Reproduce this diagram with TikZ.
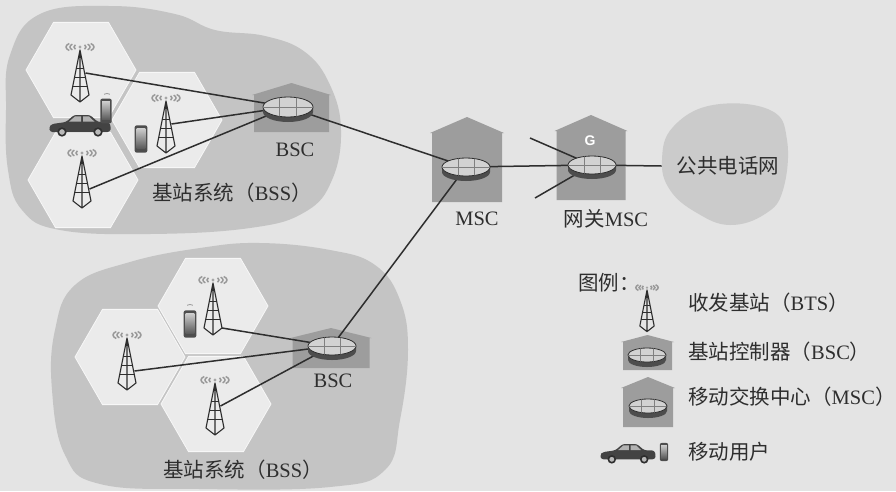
\documentclass[tikz,border=0pt]{standalone}
\usepackage{fontspec}
\setmainfont{Liberation Serif}
\newfontfamily\cjk{Noto Sans CJK SC}
\newfontfamily\gsans{Liberation Sans}
\usepackage{xcolor}
\definecolor{gsmpage}{HTML}{E4E4E4}
\definecolor{gsmarea}{HTML}{C4C4C4}
\definecolor{gsmcell}{HTML}{EBEBEB}
\definecolor{gsmcloud}{HTML}{CBCBCB}
\definecolor{gsmhouse}{HTML}{9D9D9D}
\definecolor{gsmdisc}{HTML}{D2D2D2}
\definecolor{gsmink}{HTML}{2E2E2E}
\usepackage{tikz}
\usetikzlibrary{positioning,calc}
\newcommand{\zh}[1]{{\cjk #1}}

\tikzset{
  wire/.style={draw=gsmink,line width=1.5pt},
  mast/.style={draw=gsmink,line width=1.1pt,line join=round},
  radio/.style={draw=gray!80,line width=1.5pt},
  lbl/.style={font=\fontsize{20.5}{23}\selectfont,text=gsmink,inner sep=0pt},
  cell/.style={fill=gsmcell,draw=white!60!gsmcell,line width=0.8pt},
  pics/bts/.style={code={
    \fill[gray!70] (0,-3) circle[radius=1.6pt];
    \draw[radio] (0,-3) ++(140:6pt and 3.5pt) arc[start angle=140,end angle=220,x radius=6pt,y radius=3.5pt];
    \draw[radio] (0,-3) ++(140:10pt and 4.5pt) arc[start angle=140,end angle=220,x radius=10pt,y radius=4.5pt];
    \draw[radio] (0,-3) ++(140:14pt and 5.5pt) arc[start angle=140,end angle=220,x radius=14pt,y radius=5.5pt];
    \draw[radio] (0,-3) ++(-40:6pt and 3.5pt) arc[start angle=-40,end angle=40,x radius=6pt,y radius=3.5pt];
    \draw[radio] (0,-3) ++(-40:10pt and 4.5pt) arc[start angle=-40,end angle=40,x radius=10pt,y radius=4.5pt];
    \draw[radio] (0,-3) ++(-40:14pt and 5.5pt) arc[start angle=-40,end angle=40,x radius=14pt,y radius=5.5pt];
    \draw[mast] (0,0) -- (-9,45) -- (0,52) -- (9,45) -- cycle (0,0) -- (0,52);
    \foreach \t in {0.42,0.62,0.82}
      \draw[mast] ({-9*\t},{45*\t}) -- ({9*\t},{45*\t});
    \coordinate (-a) at (5.5,23);
    \coordinate (-b) at (7.5,33);
    \coordinate (-c) at (9,45);
  }},
  pics/router/.style 2 args={code={
    \fill[gsmink!85] (-#1,0) -- (-#1,5) arc[start angle=180,end angle=360,x radius=#1pt,y radius=#2pt] -- (#1,0) -- cycle;
    \filldraw[fill=gsmdisc,draw=gsmink,line width=0.8pt] (0,0) ellipse[x radius=#1pt,y radius=#2pt];
    \begin{scope}
      \clip (0,0) ellipse[x radius=#1pt,y radius=#2pt];
      \draw[gray,line width=0.6pt] ({-#1/3},-#2) -- ({-#1/3},#2) ({#1/3},-#2) -- ({#1/3},#2) (-#1,0) -- (#1,0);
    \end{scope}
  }},
  pics/house/.style n args={3}{code={
    \fill[gsmhouse] ({-#1/2},0) -- ({-#1/2},-#2) -- ({-#1/2-2},-#2) -- (0,{-#2-#3})
      -- ({#1/2+2},-#2) -- ({#1/2},-#2) -- ({#1/2},0) -- cycle;
  }},
  pics/handset/.style={code={
    \fill[gsmink!85,rounded corners=2pt] (-6,-13) rectangle (6,13);
    \shade[top color=gray!40,bottom color=gray!70!black] (-4.2,-10) rectangle (4.2,9);
  }},
  pics/ping/.style={code={
    \draw[radio,line width=0.8pt] (0,0) ++(45:4pt and 2.5pt) arc[start angle=45,end angle=135,x radius=4pt,y radius=2.5pt];
  }},
  pics/sedan/.style={code={
    \fill[gsmink!90,rounded corners=2.5pt] (-30,7) -- (-31,2) -- (-28,-1) -- (-14,-3) -- (-6,-10)
      -- (10,-10) -- (18,-3) -- (29,-3) -- (31,2) -- (30,7) -- cycle;
    \fill[gray!60] (-11,-3.3) -- (-5,-8.6) -- (1,-8.6) -- (1,-3.3) -- cycle;
    \fill[gray!60] (3,-8.6) -- (9,-8.6) -- (14.5,-3.3) -- (3,-3.3) -- cycle;
    \filldraw[fill=gray!55,draw=gsmink,line width=1.6pt] (-18,7) circle[radius=3.8pt] (18,7) circle[radius=3.8pt];
  }},
}

\begin{document}
\begin{tikzpicture}[x=1pt,y=-1pt]
\fill[gsmpage] (0,0) rectangle (896,491);
\useasboundingbox (0,0) rectangle (896,491);

% coverage areas of the two base station systems and the public network
\fill[gsmarea] plot[smooth cycle,tension=0.7] coordinates {(6,110) (10,55) (40,14) (110,6) (175,14)
  (215,30) (265,36) (305,52) (330,85) (341,130) (332,180) (305,212) (250,228) (150,234) (60,230) (22,210) (8,170)};
\fill[gsmarea] plot[smooth cycle,tension=0.7] coordinates {(55,330) (75,285) (130,262) (200,248) (260,243)
  (330,250) (375,265) (400,300) (408,350) (400,420) (385,470) (330,487) (200,489) (100,484) (65,455) (52,390)};
\fill[gsmcloud] plot[smooth cycle,tension=0.7] coordinates {(662,160) (673,127) (713,105) (770,110)
  (787,140) (783,190) (765,214) (730,225) (697,213) (670,190)};
\node[lbl,inner xsep=15pt] (pstn) at (728,166) {\zh{公共电话网}};

% radio cells
\foreach \cx/\cy in {81/70,167/120,83/180,130/357,213/306,216/404}
  \draw[cell] (\cx,\cy) +(0:55) -- +(60:55) -- +(120:55) -- +(180:55) -- +(240:55) -- +(300:55) -- cycle;

% buildings
\pic at (291.5,132) {house={75}{37}{12}};
\pic at (331,368) {house={77}{30}{10}};
\pic at (467,202) {house={70}{69}{16}};
\pic at (591,200) {house={69}{69}{16}};
\node[font=\gsans\bfseries\fontsize{14}{14}\selectfont,text=white,inner sep=0pt] (gmark) at (590,141) {G};

% base stations and handsets
\pic (tA1) at (80,50) {bts};
\pic (tA2) at (166,101) {bts};
\pic (tA3) at (82,156) {bts};
\pic (tB1) at (213,283) {bts};
\pic (tB2) at (127,338) {bts};
\pic (tB3) at (215,383) {bts};
\pic (carA) at (80,125) {sedan};
\pic[scale=0.95] (pA1) at (106,111) {handset};
\pic (pA1w) at (107,96) {ping};
\pic[scale=1.05] (pA2) at (141,139) {handset};
\pic[scale=1.05] (pB1) at (190,324) {handset};
\pic (pB1w) at (190,307) {ping};

\coordinate (bscA) at (288,107);
\coordinate (bscB) at (332,346);
\coordinate (msc) at (466,167);
\coordinate (gmsc) at (592,165);
\coordinate (stubN) at (530,138);
\coordinate (stubS) at (535,198);

\foreach \p in {tA1-a,tA2-a,tA3-b} \draw[wire] (\p) -- (bscA);
\foreach \p in {tB1-c,tB2-b,tB3-a} \draw[wire] (\p) -- (bscB);
\draw[wire] (bscA) -- (msc) -- (gmsc) -- (pstn.west);
\draw[wire] (msc) -- (bscB);
\draw[wire] (stubN) -- (gmsc) -- (stubS);

\pic at (bscA) {router={25}{10}};
\pic at (bscB) {router={24}{9}};
\pic at (msc) {router={24}{9}};
\pic at (gmsc) {router={24}{9}};

\node[lbl] (bscAl) at (295,150) {BSC};
\node[lbl] (bssA) at (232,193) {\zh{基站系统（}BSS\zh{）}};
\node[lbl] (bscBl) at (333,381) {BSC};
\node[lbl] (bssB) at (243,470) {\zh{基站系统（}BSS\zh{）}};
\node[lbl] (mscl) at (477,219) {MSC};
\node[lbl] (gmscl) at (606,219) {\zh{网关}MSC};

% legend
\node[lbl,anchor=west] (key) at (578,283) {\zh{图例：}};
\pic[scale=0.8] (tK) at (647,290) {bts};
\pic at (647.5,370) {house={49}{28}{7}};
\pic at (647,355) {router={19}{7}};
\pic at (648,427) {house={50}{39}{11}};
\pic at (648,406) {router={19}{7}};
\pic[scale=0.9] (carK) at (628,453) {sedan};
\pic[scale=0.7] (pK) at (664,452) {handset};
\node[lbl,anchor=west] (keyBTS) at (688,303) {\zh{收发基站（}BTS\zh{）}};
\node[lbl,anchor=west] (keyBSC) at (688,352) {\zh{基站控制器（}BSC\zh{）}};
\node[lbl,anchor=west] (keyMSC) at (688,397) {\zh{移动交换中心（}MSC\zh{）}};
\node[lbl,anchor=west] (keyMS) at (688,452) {\zh{移动用户}};
\end{tikzpicture}
\end{document}
